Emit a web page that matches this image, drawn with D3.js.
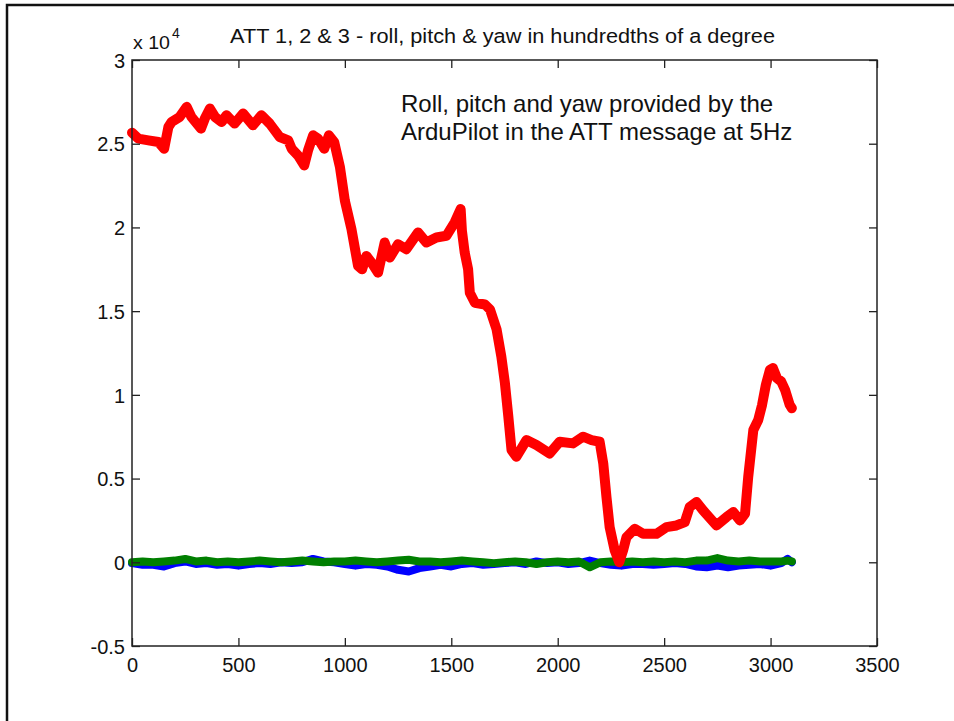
<!DOCTYPE html>
<html>
<head>
<meta charset="utf-8">
<script src="https://cdn.jsdelivr.net/npm/d3@7"></script>
<style>
  html, body { margin: 0; padding: 0; background: #fff; }
  svg { display: block; }
  text { font-family: "Liberation Sans", Arial, Helvetica, sans-serif; fill: #111; }
</style>
</head>
<body>
<svg id="chart" width="954" height="721"></svg>
<script>
// ATT message attitude samples, values in hundredths of a degree
const titleText = "ATT 1, 2 & 3 - roll, pitch & yaw in hundredths of a degree";
const noteLines = ["Roll, pitch and yaw provided by the", "ArduPilot in the ATT message at 5Hz"];

const xTicks = [0, 500, 1000, 1500, 2000, 2500, 3000, 3500];
const yTicks = [-5000, 0, 5000, 10000, 15000, 20000, 25000, 30000];
const yTickLabels = ["-0.5", "0", "0.5", "1", "1.5", "2", "2.5", "3"];

// heading trace (sample index, value)
const yawIdx = [0, 30, 77, 124, 151, 171, 186, 224, 257, 279, 324, 342, 366, 390, 421, 444, 482, 522, 568, 608,
  647, 694, 734, 750, 780, 809, 827, 851, 874, 903, 925, 950, 977, 1000, 1031, 1062, 1081, 1101, 1125, 1156,
  1187, 1211, 1250, 1289, 1344, 1383, 1430, 1477, 1516, 1544, 1550, 1563, 1579, 1587, 1611, 1658, 1682, 1713, 1735, 1752,
  1768, 1783, 1806, 1853, 1900, 1962, 2009, 2072, 2119, 2159, 2197, 2214, 2229, 2244, 2268, 2289, 2307, 2323, 2362, 2401,
  2464, 2511, 2558, 2597, 2620, 2652, 2683, 2746, 2793, 2825, 2856, 2880, 2895, 2919, 2942, 2960, 2978, 2997, 3011, 3030,
  3050, 3068, 3090, 3100];
const yawVal = [25660, 25300, 25200, 25100, 24700, 26000, 26300, 26600, 27200, 26600, 25900, 26500, 27100, 26600, 26300, 26700, 26200, 26800, 26100, 26700,
  26200, 25400, 25200, 24700, 24300, 23700, 24600, 25500, 25300, 24700, 25500, 25100, 23600, 21600, 19900, 17700, 17500, 18300, 17900, 17300,
  19100, 18200, 19000, 18700, 19700, 19100, 19400, 19500, 20300, 21100, 19800, 18500, 17500, 16100, 15500, 15400, 15100, 13900, 12300, 10700,
  8700, 6700, 6300, 7300, 7000, 6500, 7200, 7100, 7500, 7300, 7200, 5900, 3900, 2100, 700, 0, 700, 1500, 2000, 1700,
  1700, 2100, 2200, 2400, 3300, 3600, 3100, 2200, 2700, 3000, 2500, 2900, 5100, 7900, 8500, 9400, 10600, 11500, 11600, 11000,
  10800, 10300, 9400, 9200];

// pitch and roll traces sampled every 50 indices
const levelIdx = [0, 50, 100, 150, 200, 250, 300, 350, 400, 450, 500, 550, 600, 650, 700, 750, 800, 850, 900, 950,
  1000, 1050, 1100, 1150, 1200, 1250, 1300, 1350, 1400, 1450, 1500, 1550, 1600, 1650, 1700, 1750, 1800, 1850, 1900, 1950,
  2000, 2050, 2100, 2150, 2200, 2250, 2300, 2350, 2400, 2450, 2500, 2550, 2600, 2650, 2700, 2750, 2800, 2850, 2900, 2950,
  3000, 3050, 3080, 3100];
const pitchVal = [-50, -150, -150, -250, -50, 50, -100, -50, -150, -100, -200, -100, -50, -100, 0, -50, 0, 200, 50, 0,
  -100, -200, -100, -150, -250, -450, -550, -350, -250, -150, -250, -100, -50, -150, -100, -50, 0, -100, 50, -50,
  0, -100, -50, 100, -50, -150, -200, -100, -100, -150, -100, -50, -100, -250, -300, -200, -300, -200, -150, -100,
  -200, -50, 200, 0];
const rollVal = [0, 50, 0, 50, 100, 200, 50, 100, 0, 50, 0, 50, 100, 50, 0, 50, 100, 50, 0, 50,
  50, 100, 50, 0, 50, 100, 150, 50, 50, 0, 50, 100, 50, 0, -50, 0, 50, 0, -100, 0,
  50, 0, 50, -300, 0, 50, 0, 50, 0, 50, 0, 50, 0, 100, 100, 250, 100, 50, 100, 50,
  50, 50, 100, 50];

const svg = d3.select("#chart");

// outer figure frame
svg.append("rect")
  .attr("x", 7).attr("y", 5).attr("width", 980).attr("height", 740)
  .attr("fill", "none").attr("stroke", "#111").attr("stroke-width", 2.5);

const plotLeft = 132, plotRight = 877, plotTop = 60, plotBottom = 646;
const x = d3.scaleLinear().domain([0, 3500]).range([plotLeft, plotRight]);
const y = d3.scaleLinear().domain([-5000, 30000]).range([plotBottom, plotTop]);

const plot = svg.append("g");

const line = d3.line().x(d => x(d[0])).y(d => y(d[1])).curve(d3.curveLinear);

function drawTrace(idx, vals, color, width) {
  const pts = idx.map((v, i) => [v, vals[i]]);
  plot.append("path")
    .datum(pts)
    .attr("d", line)
    .attr("fill", "none")
    .attr("stroke", color)
    .attr("stroke-width", width)
    .attr("stroke-linejoin", "round")
    .attr("stroke-linecap", "round");
}

drawTrace(levelIdx, pitchVal, "#0000ff", 8);
drawTrace(levelIdx, rollVal, "#007f00", 8);
drawTrace(yawIdx, yawVal, "#ff0000", 10);

// axes with inward ticks on all four sides
const tickLen = 8;
const axisColor = "#222";
const fontTick = 20;

const bottomAxis = d3.axisBottom(x).tickValues(xTicks).tickSize(-tickLen).tickPadding(12).tickFormat(d3.format("d"));
const topAxis = d3.axisTop(x).tickValues(xTicks).tickSize(-tickLen).tickFormat("");
const leftAxis = d3.axisLeft(y).tickValues(yTicks).tickSize(-tickLen).tickPadding(7)
  .tickFormat((d, i) => yTickLabels[i]);
const rightAxis = d3.axisRight(y).tickValues(yTicks).tickSize(-tickLen).tickFormat("");

function styleAxis(g) {
  g.select(".domain").remove();
  g.selectAll(".tick line").attr("stroke", axisColor).attr("stroke-width", 1.3);
  g.selectAll(".tick text")
    .attr("font-family", "Liberation Sans, Arial, sans-serif")
    .attr("font-size", fontTick).attr("fill", "#111");
}

svg.append("g").attr("transform", `translate(0,${plotBottom})`).call(bottomAxis).call(styleAxis);
svg.append("g").attr("transform", `translate(0,${plotTop})`).call(topAxis).call(styleAxis);
svg.append("g").attr("transform", `translate(${plotLeft},0)`).call(leftAxis).call(styleAxis)
  .selectAll(".tick text").attr("dy", "0.36em");
svg.append("g").attr("transform", `translate(${plotRight},0)`).call(rightAxis).call(styleAxis);

// axes box
svg.append("rect")
  .attr("x", plotLeft).attr("y", plotTop).attr("width", plotRight - plotLeft).attr("height", plotBottom - plotTop)
  .attr("fill", "none").attr("stroke", axisColor).attr("stroke-width", 1.5);

// exponent label
const expo = svg.append("text").attr("x", 133).attr("y", 49).attr("font-size", 19)
  .attr("textLength", 37).attr("lengthAdjust", "spacingAndGlyphs");
expo.append("tspan").text("x 10");
svg.append("text").attr("x", 172).attr("y", 38).attr("font-size", 14).text("4");

// title
svg.append("text")
  .attr("x", 230).attr("y", 43)
  .attr("font-size", 20.5)
  .attr("textLength", 545).attr("lengthAdjust", "spacingAndGlyphs")
  .text(titleText);

// annotation
svg.append("text")
  .attr("x", 401).attr("y", 112)
  .attr("font-size", 24)
  .selectAll("tspan").data(noteLines).join("tspan")
  .attr("x", 401).attr("dy", (d, i) => i === 0 ? 0 : 28)
  .text(d => d);
</script>
</body>
</html>
